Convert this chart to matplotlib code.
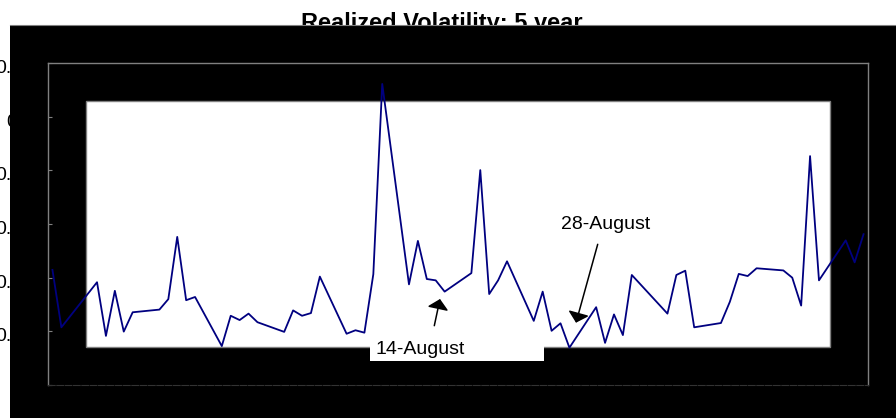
import matplotlib
matplotlib.use('Agg')
import matplotlib.pyplot as plt
import matplotlib.patches as mpatches
import matplotlib.transforms as mtransforms
from matplotlib.ticker import MultipleLocator, FuncFormatter, NullFormatter
import pandas as pd

plt.rcParams['font.family'] = ['Liberation Sans', 'DejaVu Sans']

# trading days Jul-Sep 2009 (Jul 3 and Sep 7 are holidays)
holidays = ['2009-07-03', '2009-09-07']
dates = pd.bdate_range('2009-07-01', '2009-09-30')
dates = dates[~dates.isin(pd.to_datetime(holidays))]

vol = [0.0429, 0.0215,
       0.0383, 0.0183, 0.0351, 0.0199, 0.0271,
       0.0281, 0.0320, 0.0552, 0.0316, 0.0328,
       0.0145, 0.0258, 0.0242, 0.0266, 0.0234,
       0.0198, 0.0278, 0.0258, 0.0268, 0.0404,
       0.0191, 0.0204, 0.0195, 0.0413, 0.1122,
       0.0375, 0.0537, 0.0395, 0.0390, 0.0348,
       0.0417, 0.0801, 0.0339, 0.0390, 0.0461,
       0.0239, 0.0348, 0.0202, 0.0230, 0.0139,
       0.0290, 0.0157, 0.0263, 0.0186, 0.0410,
       0.0266, 0.0410, 0.0426, 0.0215,
       0.0231, 0.0310, 0.0414, 0.0406, 0.0435,
       0.0427, 0.0400, 0.0296, 0.0853, 0.0390,
       0.0539, 0.0457, 0.0562]

title = 'Realized Volatility: 5 year'
notes = ['14-August', '28-August']

W, H = 896, 418
def fx(x):
    return x / W
def fy(y):
    return 1 - y / H

fig = plt.figure(figsize=(W / 100, H / 100), dpi=100)
fig.patch.set_facecolor('white')

# title sits behind the black chart area
fig.text(fx(442), fy(29.6), title, ha='center', va='baseline',
         fontsize=17, fontweight='bold', zorder=0.5)

bg = fig.add_axes([fx(10), 0, fx(886), 1 - 25 / H], zorder=1)
bg.set_facecolor('black')
bg.set_xticks([]); bg.set_yticks([])
for s in ['left', 'right', 'bottom']:
    bg.spines[s].set_visible(False)
bg.spines['top'].set_color('#808080')

ax = fig.add_axes([fx(48), fy(385), fx(820), 322 / H], zorder=2)
ax.set_facecolor('black')
for s in ['left', 'right', 'top']:
    ax.spines[s].set_color('#808080')
    ax.spines[s].set_linewidth(1)
ax.spines['bottom'].set_color('#333333')
ax.spines['bottom'].set_linestyle((0, (6, 1.5)))

# white plot area
ax.add_patch(mpatches.Rectangle((38 / 820, 38 / 322), 744 / 820, 246 / 322,
                                transform=ax.transAxes, facecolor='white',
                                edgecolor='#808080', lw=1, zorder=0.5))

ax.plot(dates, vol, color='#000080', lw=1.3, zorder=3)

ax.set_xlim(dates[0] - pd.Timedelta(hours=12), dates[-1] + pd.Timedelta(hours=12))
ax.set_ylim(0, 0.12)
ax.yaxis.set_major_locator(MultipleLocator(0.02))
ax.yaxis.set_major_formatter(FuncFormatter(lambda v, p: '{:g}'.format(round(v, 4))))
ax.tick_params(axis='y', direction='in', length=3, color='#808080',
               labelsize=14, labelcolor='black', pad=10.6)
ax.tick_params(axis='x', length=0)
ax.xaxis.set_major_formatter(NullFormatter())
off = mtransforms.ScaledTranslation(0, -2.5 / 72, fig.dpi_scale_trans)
for lab in ax.get_yticklabels():
    lab.set_transform(lab.get_transform() + off)

# label box for 14-August
ax.add_patch(mpatches.Rectangle((fx(370), fy(360.7)), fx(173.7), 27.7 / H,
                                transform=fig.transFigure, facecolor='white',
                                edgecolor='none', zorder=2, clip_on=False))
ax.text(fx(420), fy(354), notes[0], transform=fig.transFigure, ha='center',
        va='baseline', fontsize=14, zorder=4)
ax.text(fx(606), fy(229), notes[1], transform=fig.transFigure, ha='center',
        va='baseline', fontsize=14, zorder=4)

arrow = dict(arrowstyle='-|>,head_length=0.6,head_width=0.65', color='black',
             lw=1.1, mutation_scale=10, shrinkA=0, shrinkB=0)
ax.annotate('', xy=(fx(440), fy(299)), xytext=(fx(434.3), fy(325.7)),
            xycoords='figure fraction', textcoords='figure fraction',
            arrowprops=arrow, zorder=4)
ax.annotate('', xy=(fx(576), fy(322.7)), xytext=(fx(597.7), fy(244.3)),
            xycoords='figure fraction', textcoords='figure fraction',
            arrowprops=arrow, zorder=4)

fig.savefig('out.png', dpi=100)
